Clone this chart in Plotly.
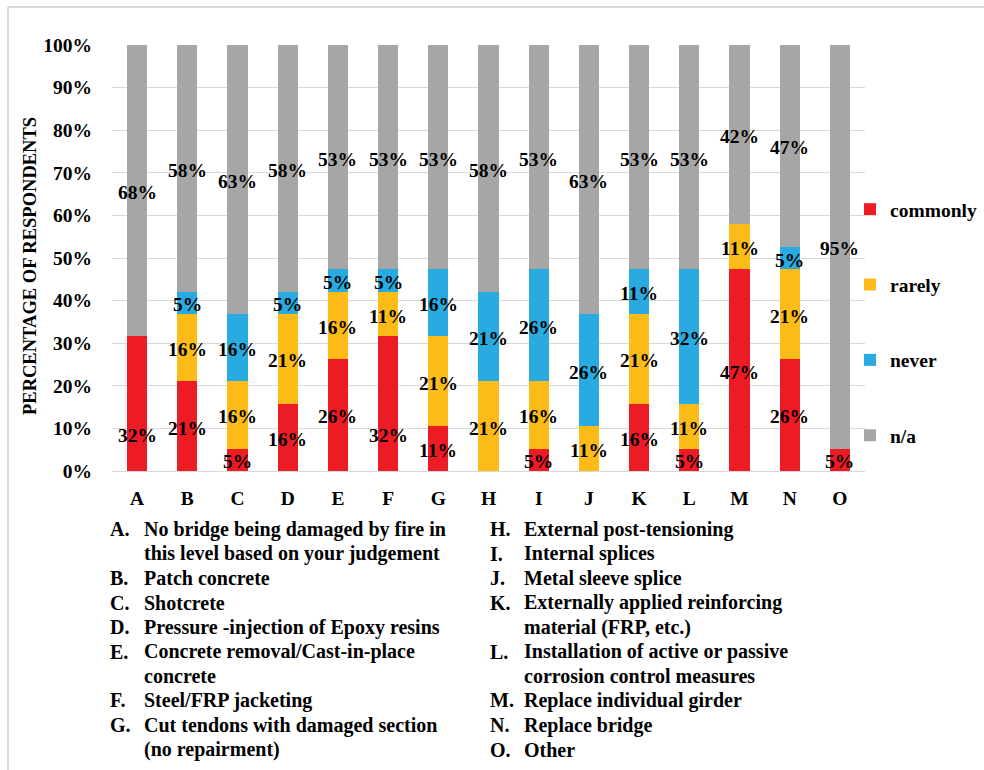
import plotly.graph_objects as go

# Survey results: number of respondents (out of 19) per repair option
respondents = 19
categories = ["A", "B", "C", "D", "E", "F", "G", "H", "I", "J", "K", "L", "M", "N", "O"]
commonly = [6, 4, 1, 3, 5, 6, 2, 0, 1, 0, 3, 1, 9, 5, 1]
rarely = [0, 3, 3, 4, 3, 2, 4, 4, 3, 2, 4, 2, 2, 4, 0]
never = [0, 1, 3, 1, 1, 1, 3, 4, 5, 5, 2, 6, 0, 1, 0]
not_applicable = [13, 11, 12, 11, 10, 10, 10, 11, 10, 12, 10, 10, 8, 9, 18]

series_names = ["commonly", "rarely", "never", "n/a"]
series_counts = [commonly, rarely, never, not_applicable]
series_colors = ["#ED1C24", "#FDBB17", "#29ABE2", "#A6A6A6"]

y_ticks = [0, 10, 20, 30, 40, 50, 60, 70, 80, 90, 100]
y_tick_labels = ["0%", "10%", "20%", "30%", "40%", "50%", "60%", "70%", "80%", "90%", "100%"]

left_notes = [
    ("A.", ["No bridge being damaged by fire in", "this level based on your judgement"]),
    ("B.", ["Patch concrete"]),
    ("C.", ["Shotcrete"]),
    ("D.", ["Pressure -injection of Epoxy resins"]),
    ("E.", ["Concrete removal/Cast-in-place", "concrete"]),
    ("F.", ["Steel/FRP jacketing"]),
    ("G.", ["Cut tendons with damaged section", "(no repairment)"]),
]
right_notes = [
    ("H.", ["External post-tensioning"]),
    ("I.", ["Internal splices"]),
    ("J.", ["Metal sleeve splice"]),
    ("K.", ["Externally applied reinforcing", "material (FRP, etc.)"]),
    ("L.", ["Installation of active or passive", "corrosion control measures"]),
    ("M.", ["Replace individual girder"]),
    ("N.", ["Replace bridge"]),
    ("O.", ["Other"]),
]

# Label shifts (in % units) for labels moved off the segment centre
label_nudge = {("commonly", "A"): -7, ("commonly", "F"): -7}

W, H = 984, 770
PL, PR, PT, PB = 112, 865, 45, 471  # plot area in pixels
SERIF = "Liberation Serif"
FS = 19.5


def px_x(x):
    return (x - PL) / (PR - PL)


def px_y(y):
    return (PB - y) / (PB - PT)


def bold(size=FS):
    return dict(family=SERIF, size=size, color="black", weight="bold")


series_pct = [[100.0 * c / respondents for c in counts] for counts in series_counts]

fig = go.Figure()
for name, vals, color in zip(series_names, series_pct, series_colors):
    fig.add_trace(go.Bar(
        x=categories, y=vals, name=name, marker=dict(color=color, line=dict(width=0)),
        legendgroup=name, hoverinfo="skip",
    ))

annotations = []
base = [0.0] * len(categories)
for name, vals in zip(series_names, series_pct):
    for i, (cat, v) in enumerate(zip(categories, vals)):
        if v > 0:
            yc = base[i] + v / 2 + label_nudge.get((name, cat), 0)
            annotations.append(dict(
                x=cat, y=yc, xref="x", yref="y", text=f"{round(v)}%", showarrow=False,
                font=bold(), yshift=-2,
            ))
        base[i] += v

for col_x, notes in ((108, left_notes), (488, right_notes)):
    row = 0
    for letter, lines in notes:
        annotations.append(dict(
            x=px_x(col_x), y=px_y(529 + 24.5 * row), xref="paper", yref="paper",
            xanchor="left", yanchor="middle", text=letter, showarrow=False, font=bold(20),
        ))
        for line in lines:
            annotations.append(dict(
                x=px_x(col_x + 34), y=px_y(529 + 24.5 * row), xref="paper", yref="paper",
                xanchor="left", yanchor="middle", text=line, showarrow=False, font=bold(20),
            ))
            row += 1

annotations.append(dict(
    x=px_x(30), y=px_y(266), xref="paper", yref="paper", text="PERCENTAGE OF RESPONDENTS",
    textangle=-90, showarrow=False, xanchor="center", yanchor="middle", font=bold(18.5),
))

fig.update_layout(
    width=W, height=H,
    margin=dict(l=PL, r=W - PR, t=PT, b=H - PB, pad=0, autoexpand=False),
    paper_bgcolor="white", plot_bgcolor="white",
    barmode="stack", bargap=0.6,
    annotations=annotations,
    showlegend=True,
    legend=dict(
        x=px_x(850), y=px_y(190), xanchor="left", yanchor="top",
        traceorder="grouped", tracegroupgap=47, itemwidth=30,
        font=bold(), bgcolor="rgba(0,0,0,0)",
    ),
    xaxis=dict(
        showgrid=False, showline=False, zeroline=False, ticks="",
        tickfont=bold(), ticklabelstandoff=13,
    ),
    yaxis=dict(
        range=[0, 100], tickvals=y_ticks, ticktext=y_tick_labels,
        showgrid=True, gridcolor="#D9D9D9", gridwidth=1,
        zeroline=True, zerolinecolor="#D9D9D9", zerolinewidth=1,
        showline=False, ticks="",
        tickfont=bold(), ticklabelstandoff=19,
    ),
    shapes=[
        dict(type="line", xref="paper", yref="paper", x0=px_x(8), x1=px_x(W), y0=px_y(7), y1=px_y(7),
             line=dict(color="#D9D9D9", width=2)),
        dict(type="line", xref="paper", yref="paper", x0=px_x(8), x1=px_x(8), y0=px_y(7), y1=px_y(H),
             line=dict(color="#D9D9D9", width=2)),
    ],
)

fig.write_html("out.html")
